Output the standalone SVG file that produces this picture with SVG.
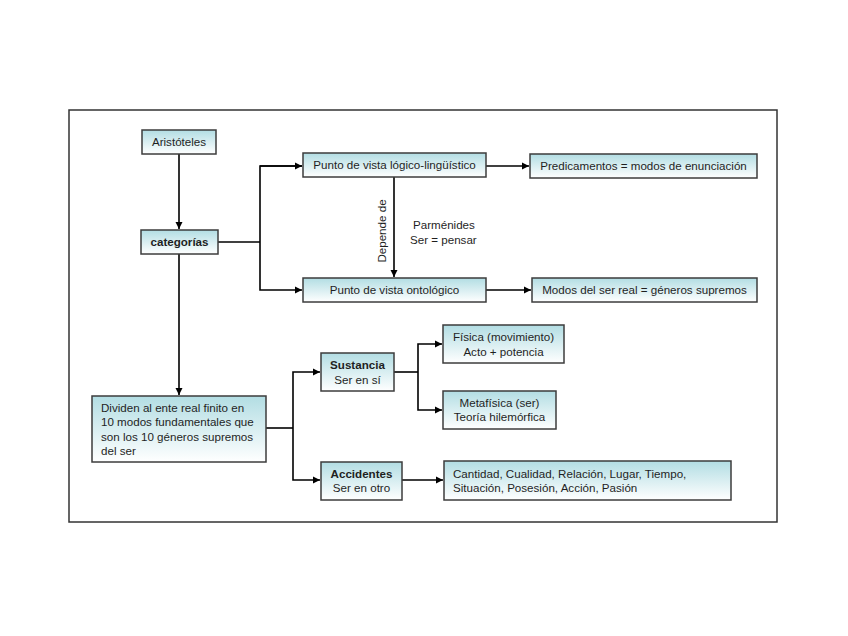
<svg xmlns="http://www.w3.org/2000/svg" width="848" height="636" viewBox="0 0 848 636">
<style>
.box{fill:url(#g);stroke:#3c3c3c;stroke-width:1.5}
text{font-family:"Liberation Sans",Arial,sans-serif;font-size:11.6px;fill:#1f1f1f}
.c{text-anchor:middle}
.b{font-weight:bold}
.ln{fill:none;stroke:#000;stroke-width:1.6}
</style>
<defs>
<linearGradient id="g" x1="0" y1="0" x2="0" y2="1">
<stop offset="0" stop-color="#b2dde3"/>
<stop offset="1" stop-color="#ffffff"/>
</linearGradient>
<marker id="a" markerWidth="8" markerHeight="8" refX="7" refY="4" orient="auto" markerUnits="userSpaceOnUse">
<path d="M0,0.5 L7,4 L0,7.5 Z" fill="#000"/>
</marker>
</defs>
<rect x="69" y="110" width="708" height="412" fill="#fff" stroke="#333" stroke-width="1.5"/>
<g id="connectors">
<path class="ln" d="M179,154 V229" marker-end="url(#a)"/>
<path class="ln" d="M218,242 H260"/>
<path class="ln" d="M302,166 H260 V290 H302" marker-end="url(#a)"/>
<path class="ln" d="M260,166 H302" marker-end="url(#a)"/>
<path class="ln" d="M394,177 V277" marker-end="url(#a)"/>
<path class="ln" d="M486,166 H529" marker-end="url(#a)"/>
<path class="ln" d="M486,290 H531" marker-end="url(#a)"/>
<path class="ln" d="M179,254 V395" marker-end="url(#a)"/>
<path class="ln" d="M266,428 H293"/>
<path class="ln" d="M293,428 V372 H320" marker-end="url(#a)"/>
<path class="ln" d="M293,428 V480 H320" marker-end="url(#a)"/>
<path class="ln" d="M394,372 H418"/>
<path class="ln" d="M418,372 V344 H442" marker-end="url(#a)"/>
<path class="ln" d="M418,372 V410 H442" marker-end="url(#a)"/>
<path class="ln" d="M402,480 H443" marker-end="url(#a)"/>
</g>
<g id="aristoteles"><rect class="box" x="142" y="130" width="74" height="24"/><text class="c" x="179" y="146">Aristóteles</text></g>
<g id="categorias"><rect class="box" x="141" y="230" width="77" height="24"/><text class="c b" x="179.5" y="246">categorías</text></g>
<g id="logico"><rect class="box" x="303" y="153" width="183" height="24"/><text class="c" x="394.5" y="169">Punto de vista lógico-lingüístico</text></g>
<g id="ontologico"><rect class="box" x="303" y="278" width="183" height="24"/><text class="c" x="394.5" y="294">Punto de vista ontológico</text></g>
<g id="depende"><text class="c" transform="translate(386,231) rotate(-90)">Depende de</text></g>
<g id="parmenides"><text x="413" y="229">Parménides</text><text x="410" y="244">Ser = pensar</text></g>
<g id="predicamentos"><rect class="box" x="530" y="154" width="227" height="24"/><text class="c" x="643.5" y="170">Predicamentos = modos de enunciación</text></g>
<g id="modos"><rect class="box" x="532" y="278" width="225" height="24"/><text class="c" x="644.5" y="294">Modos del ser real = géneros supremos</text></g>
<g id="dividen"><rect class="box" x="92" y="396" width="174" height="66"/>
<text x="101" y="412">Dividen al ente real finito en</text>
<text x="101" y="426">10 modos fundamentales que</text>
<text x="101" y="441">son los 10 géneros supremos</text>
<text x="101" y="455">del ser</text></g>
<g id="sustancia"><rect class="box" x="321" y="353" width="73" height="38"/><text class="c b" x="357.5" y="369">Sustancia</text><text class="c" x="357.5" y="384">Ser en sí</text></g>
<g id="accidentes"><rect class="box" x="321" y="462" width="81" height="38"/><text class="c b" x="361.5" y="478">Accidentes</text><text class="c" x="361.5" y="492">Ser en otro</text></g>
<g id="fisica"><rect class="box" x="443" y="325" width="121" height="38"/><text class="c" x="503.5" y="341">Física (movimiento)</text><text class="c" x="503.5" y="356">Acto + potencia</text></g>
<g id="metafisica"><rect class="box" x="443" y="391" width="113" height="38"/><text class="c" x="499.5" y="407">Metafísica (ser)</text><text class="c" x="499.5" y="421">Teoría hilemórfica</text></g>
<g id="cantidad"><rect class="box" x="444" y="461" width="287" height="39"/><text x="453" y="478">Cantidad, Cualidad, Relación, Lugar, Tiempo,</text><text x="453" y="492">Situación, Posesión, Acción, Pasión</text></g>
</svg>
